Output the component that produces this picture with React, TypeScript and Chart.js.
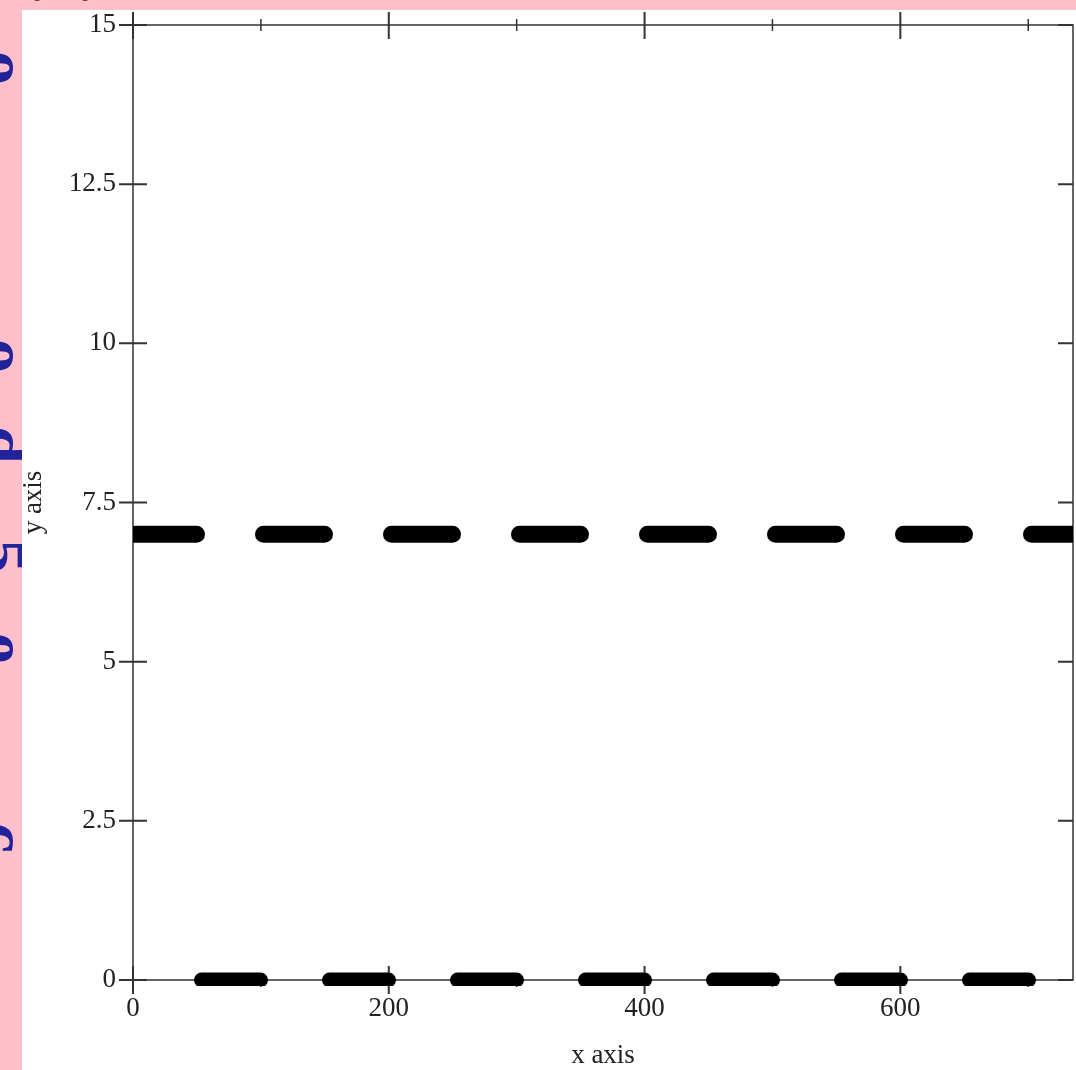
import React, { useEffect, useRef } from "react";
import { Chart, registerables } from "chart.js";

Chart.register(...registerables);

// ---- data ----
const xMin = 0;
const xMax = 735;
const yMin = 0;
const yMax = 15;
const upperLineX = [0, 735];
const upperLineY = [7, 7];
const lowerLineX = [0, 735];
const lowerLineY = [0, 0];
const yTickValues = [0, 2.5, 5, 7.5, 10, 12.5, 15];
const xMajorTickValues = [0, 200, 400, 600];
const xMinorTickValues = [100, 300, 500, 700];
const xTitle = "x axis";
const yTitle = "y axis";
const sideGlyphs = ["o", "o", "d", "5", "e", "c"];
const sideGlyphY = [68, 356, 445, 556, 648, 838];

const FONT = "'Liberation Serif', 'Times New Roman', serif";
const INK = "#222";

const framePlugin = {
  id: "framePlugin",
  beforeDatasetsDraw(chart: any) {
    const { ctx, chartArea, scales } = chart;
    const { left, right, top, bottom } = chartArea;
    const x = scales.x;
    const y = scales.y;
    ctx.save();
    ctx.strokeStyle = "#333";
    ctx.lineWidth = 1.5;
    ctx.beginPath();
    ctx.rect(left, top, right - left, bottom - top);
    ctx.stroke();
    ctx.lineWidth = 2;
    ctx.beginPath();
    for (const v of yTickValues) {
      const py = y.getPixelForValue(v);
      ctx.moveTo(left - 14, py);
      ctx.lineTo(left + 14, py);
      ctx.moveTo(right - 15, py);
      ctx.lineTo(right, py);
    }
    for (const v of xMajorTickValues) {
      const px = x.getPixelForValue(v);
      ctx.moveTo(px, bottom - 14);
      ctx.lineTo(px, bottom + 14);
      ctx.moveTo(px, top - 13);
      ctx.lineTo(px, top + 14);
    }
    ctx.stroke();
    ctx.lineWidth = 1.5;
    ctx.beginPath();
    for (const v of xMinorTickValues) {
      const px = x.getPixelForValue(v);
      if (px > right) continue;
      ctx.moveTo(px, bottom - 6);
      ctx.lineTo(px, bottom + 7);
      ctx.moveTo(px, top - 6);
      ctx.lineTo(px, top + 6);
    }
    ctx.stroke();
    ctx.restore();
  },
};

export default function App() {
  const canvasRef = useRef<HTMLCanvasElement | null>(null);

  useEffect(() => {
    const canvas = canvasRef.current;
    if (!canvas) return;
    const tickFont = { family: FONT, size: 27, lineHeight: 1.2 };
    const titleFont = { family: FONT, size: 27, lineHeight: 1 };
    const lineClip = { left: 0, right: 0, top: 10, bottom: 6 };
    const chart = new Chart(canvas, {
      type: "line",
      data: {
        datasets: [
          {
            data: upperLineX.map((v, i) => ({ x: v, y: upperLineY[i] })),
            borderColor: "#000",
            borderWidth: 17,
            borderDash: [61, 67],
            borderDashOffset: 125.5,
            borderCapStyle: "round",
            pointRadius: 0,
            fill: false,
            clip: lineClip as any,
          },
          {
            data: lowerLineX.map((v, i) => ({ x: v, y: lowerLineY[i] })),
            borderColor: "#000",
            borderWidth: 15,
            borderDash: [59, 69],
            borderDashOffset: 59.5,
            borderCapStyle: "round",
            pointRadius: 0,
            fill: false,
            clip: lineClip as any,
          },
        ],
      },
      options: {
        animation: false,
        responsive: false,
        maintainAspectRatio: false,
        layout: { padding: { left: 0, right: 3, top: 15, bottom: 0 } },
        plugins: {
          legend: { display: false },
          tooltip: { enabled: false },
        },
        scales: {
          x: {
            type: "linear",
            min: xMin,
            max: xMax,
            grid: { display: false, drawTicks: false },
            border: { display: false },
            afterBuildTicks: (s: any) => {
              s.ticks = xMajorTickValues.map((v) => ({ value: v }));
            },
            afterFit: (s: any) => {
              s.height = 90;
              s.paddingLeft = 0;
              s.paddingRight = 0;
              s.paddingTop = 0;
              s.paddingBottom = 0;
            },
            ticks: {
              font: tickFont,
              color: INK,
              padding: 13,
              maxRotation: 0,
              autoSkip: false,
            },
            title: {
              display: true,
              text: xTitle,
              font: titleFont,
              color: INK,
              padding: { top: 0, bottom: 1 },
            },
          },
          y: {
            type: "linear",
            min: yMin,
            max: yMax,
            grid: { display: false, drawTicks: false },
            border: { display: false },
            afterBuildTicks: (s: any) => {
              s.ticks = yTickValues.map((v) => ({ value: v }));
            },
            afterFit: (s: any) => {
              s.width = 111;
              s.paddingLeft = 0;
              s.paddingRight = 0;
              s.paddingTop = 0;
              s.paddingBottom = 0;
            },
            ticks: {
              font: tickFont,
              color: INK,
              padding: 17,
              autoSkip: false,
            },
            title: {
              display: true,
              text: yTitle,
              font: titleFont,
              color: INK,
              padding: { top: -2, bottom: 0 },
            },
          },
        },
      },
      plugins: [framePlugin],
    } as any);
    return () => chart.destroy();
  }, []);

  return (
    <div
      style={{
        position: "fixed",
        left: 0,
        top: 0,
        width: 1076,
        height: 1070,
        background: "#ffc0cb",
        overflow: "hidden",
      }}
    >
      <span style={{ position: "absolute", left: 34, top: -40, font: `36px ${FONT}`, color: "#8b3a1a" }}>y</span>
      <span style={{ position: "absolute", left: 82, top: -40, font: `36px ${FONT}`, color: "#8b3a1a" }}>y</span>
      {sideGlyphs.map((g, i) => (
        <div
          key={i}
          style={{
            position: "absolute",
            left: 8 - 35,
            top: sideGlyphY[i] - 35,
            width: 70,
            height: 70,
            lineHeight: "70px",
            textAlign: "center",
            font: `bold 68px ${FONT}`,
            color: "#22229a",
            transform: "rotate(90deg)",
          }}
        >
          {g}
        </div>
      ))}
      <div
        style={{
          position: "absolute",
          left: 22,
          top: 10,
          width: 1054,
          height: 1060,
          background: "#fff",
        }}
      >
        <canvas
          ref={canvasRef}
          width={1054}
          height={1060}
          style={{ display: "block", width: 1054, height: 1060 }}
        />
      </div>
    </div>
  );
}
